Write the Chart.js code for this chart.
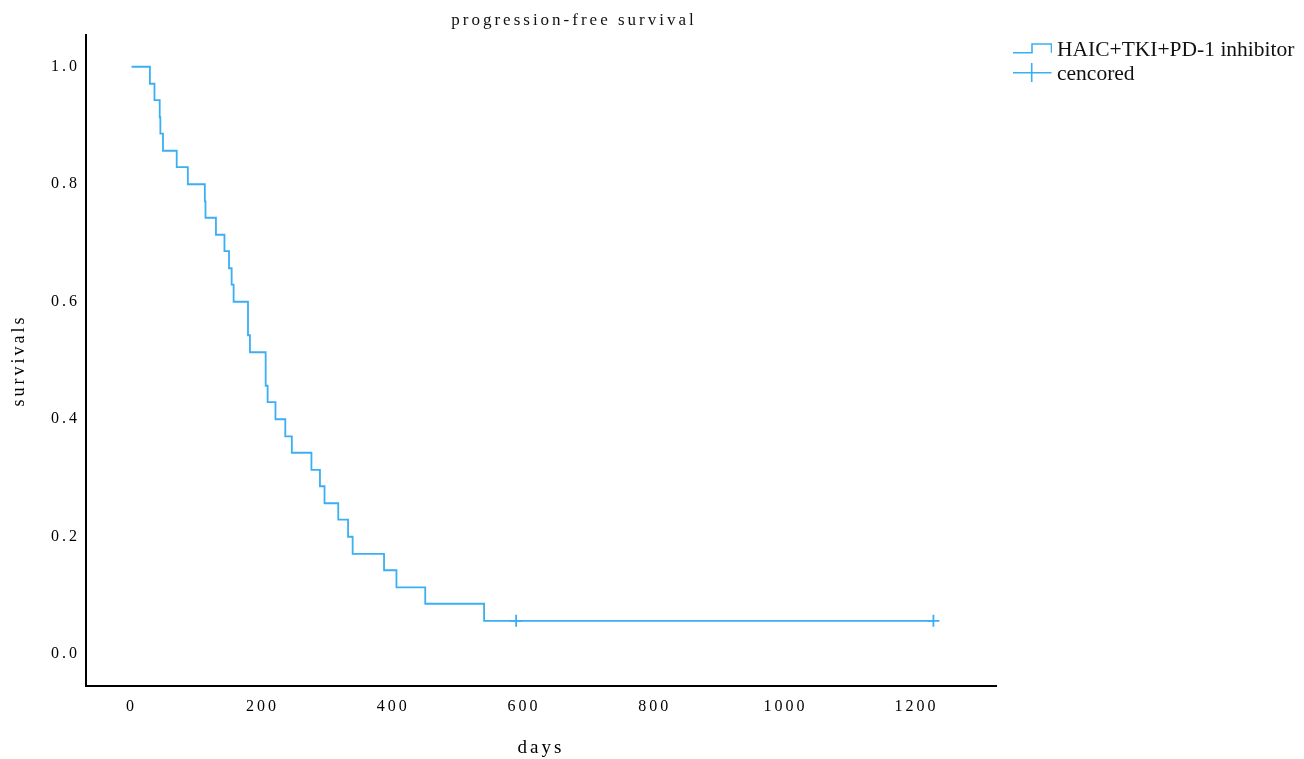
<!DOCTYPE html>
<html>
<head>
<meta charset="utf-8">
<title>progression-free survival</title>
<script src="https://cdn.jsdelivr.net/npm/chart.js@4.4.1/dist/chart.umd.min.js"></script>
<style>
  html, body { margin: 0; padding: 0; background: #fff; }
  #wrap { position: relative; width: 1304px; height: 759px; }
  #title {
    position: absolute; top: 11px; left: 574px; transform: translateX(-50%);
    font: 17px/17px "Liberation Serif", serif; letter-spacing: 3px; color: #111; white-space: nowrap;
  }
  #legend { position: absolute; left: 1012px; top: 37px; font: 21.5px/24px "Liberation Serif", serif; color: #111; }
  #legend .item { display: flex; align-items: center; height: 24px; white-space: nowrap; }
  #legend svg { margin-right: 5px; flex: none; }
</style>
</head>
<body>
<div id="wrap">
  <canvas id="km" width="1304" height="759"></canvas>
  <div id="title">progression-free survival</div>
  <div id="legend"></div>
</div>
<script>
// Kaplan-Meier steps: day of each drop and the survival level after it
const days = [0, 28, 35, 43, 44, 48, 69, 86, 112, 113, 129, 142, 149, 153, 156, 178, 181,
  205, 208, 220, 235, 245, 275, 288, 295, 316, 331, 338, 386, 405, 449, 539]
const survival = [1.000, 0.971, 0.943, 0.914, 0.886, 0.857, 0.829, 0.800, 0.771, 0.743, 0.714,
  0.686, 0.657, 0.629, 0.600, 0.543, 0.514, 0.457, 0.429, 0.400, 0.371, 0.343, 0.314, 0.286,
  0.257, 0.229, 0.200, 0.171, 0.143, 0.114, 0.086, 0.057]

// censored follow-ups
const censorDays = [588, 1226]
const censorSurvival = [0.057, 0.057]

const dayTicks = [0, 200, 400, 600, 800, 1000, 1200]
const survivalTicks = [0.0, 0.2, 0.4, 0.6, 0.8, 1.0]

const seriesLabel = "HAIC+TKI+PD-1 inhibitor"
const censorLabel = "cencored"
const blue = "#3aaff4"

const curve = days.map((d, i) => ({ x: d, y: survival[i] }))
  .concat(censorDays.map((d, i) => ({ x: d, y: censorSurvival[i] })))
const censored = censorDays.map((d, i) => ({ x: d, y: censorSurvival[i] }))

const tickFont = { family: "Liberation Serif", size: 16 }

// spaced-out lettering on the axes
const spacing = {
  id: "spacing",
  beforeDraw(chart) {
    chart.ctx.letterSpacing = "3px"
  }
}

const chart = new Chart(document.getElementById("km"), {
  type: "line",
  data: {
    datasets: [{
      label: seriesLabel,
      data: curve,
      stepped: "before",
      borderColor: blue,
      borderWidth: 1.8,
      pointRadius: 0,
      fill: false
    }, {
      label: censorLabel,
      data: censored,
      showLine: false,
      pointStyle: "cross",
      pointRadius: 6,
      pointBorderWidth: 1.8,
      borderColor: blue,
      backgroundColor: blue
    }]
  },
  options: {
    responsive: false,
    animation: false,
    devicePixelRatio: 1,
    layout: { padding: { top: 35, right: 308, bottom: 0, left: 0 } },
    plugins: {
      legend: { display: false },
      title: { display: false },
      tooltip: { enabled: false }
    },
    scales: {
      x: {
        type: "linear",
        min: -69.7,
        max: 1321.7,
        grid: { display: false, drawTicks: false, tickLength: 0 },
        border: { display: true, color: "#000", width: 2 },
        afterBuildTicks: s => { s.ticks = dayTicks.map(v => ({ value: v })) },
        afterFit: s => { s.height = 73 },
        ticks: { font: tickFont, color: "#000", padding: 11, maxRotation: 0, autoSkip: false, callback: v => String(v) },
        title: { display: true, text: "days", color: "#000", font: { family: "Liberation Serif", size: 19 }, padding: 0 }
      },
      y: {
        type: "linear",
        min: -0.054,
        max: 1.054,
        grid: { display: false, drawTicks: false, tickLength: 0 },
        border: { display: true, color: "#000", width: 2 },
        afterBuildTicks: s => { s.ticks = survivalTicks.map(v => ({ value: v })) },
        afterFit: s => { s.width = 86 },
        ticks: { font: tickFont, color: "#000", padding: 6, autoSkip: false, callback: v => v.toFixed(1) },
        title: { display: true, text: "survivals", color: "#000", font: { family: "Liberation Serif", size: 18 }, padding: { top: 8, bottom: 0 } }
      }
    }
  },
  plugins: [spacing]
})

// legend built from the dataset labels
const symbols = [
  `<svg width="40" height="24"><path d="M1 15.7 H20 V7 H39.5 V15.7" fill="none" stroke="${blue}" stroke-width="1.6"/></svg>`,
  `<svg width="40" height="24"><path d="M1 11.7 H39.5 M19.7 2 V21" fill="none" stroke="${blue}" stroke-width="1.6"/></svg>`
]
const $legend = document.querySelector("#legend")
chart.data.datasets.forEach((ds, i) => {
  const $item = document.createElement("div")
  $item.className = "item"
  $item.innerHTML = `${symbols[i]}<span>${ds.label}</span>`
  $legend.appendChild($item)
})
</script>
</body>
</html>
